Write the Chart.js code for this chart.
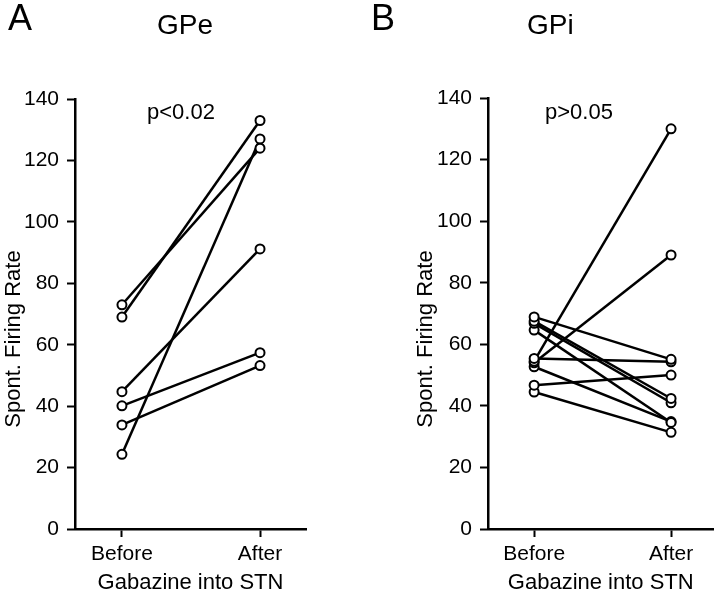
<!DOCTYPE html>
<html>
<head>
<meta charset="utf-8">
<script src="https://cdn.jsdelivr.net/npm/chart.js@4/dist/chart.umd.min.js"></script>
<style>
body { margin: 0; background: #fff; width: 720px; height: 596px; position: relative; overflow: hidden; font-family: "Liberation Sans", Arial, sans-serif; color: #000; }
canvas { position: absolute; top: 0; }
.lbl { position: absolute; white-space: nowrap; line-height: 1; }
.ytitle { position: absolute; width: 240px; height: 26px; line-height: 26px; text-align: center; font-size: 22px; transform: rotate(-90deg); }
</style>
</head>
<body>
<canvas id="gpe" width="360" height="596" style="left:0"></canvas>
<canvas id="gpi" width="360" height="596" style="left:360px"></canvas>
<div class="lbl" style="left:8px;top:0;font-size:36px">A</div>
<div class="lbl" style="left:157px;top:11px;font-size:28px">GPe</div>
<div class="lbl" style="left:147px;top:101px;font-size:22px">p&lt;0.02</div>
<div class="lbl" style="left:371px;top:0;font-size:36px">B</div>
<div class="lbl" style="left:527px;top:11px;font-size:28px">GPi</div>
<div class="lbl" style="left:545px;top:101px;font-size:22px">p&gt;0.05</div>
<div class="ytitle" id="yt1" style="left:-107px;top:326px"></div>
<div class="ytitle" id="yt2" style="left:305px;top:326px"></div>
<script>
var xTickLabels = ["Before", "After"];
var xTitle = "Gabazine into STN";
var yTitle = "Spont. Firing Rate";

// GPe, one pair per cell
var gpeBefore = [73, 69, 44.7, 40.1, 33.9, 24.3];
var gpeAfter = [124, 133, 91.2, 57.4, 53.2, 127];

// GPi, one pair per cell
var gpiBefore = [68.9, 67.5, 66.8, 64.6, 55.4, 54.5, 54, 52.7, 46.7, 44.5];
var gpiAfter = [55.1, 42.4, 41.0, 34.6, 54.3, 130, 89, 34.9, 50, 31.4];

document.getElementById("yt1").textContent = yTitle;
document.getElementById("yt2").textContent = yTitle;

var font = { family: "'Liberation Sans', Arial, sans-serif", size: 21 };
var titleFont = { family: "'Liberation Sans', Arial, sans-serif", size: 22 };

function pairs(before, after) {
    return before.map(function (b, i) {
        return {
            data: [{ x: 0, y: b }, { x: 1, y: after[i] }],
            showLine: true,
            borderColor: "#000",
            borderWidth: 2.5,
            pointRadius: 4.5,
            pointBorderWidth: 2,
            pointBorderColor: "#000",
            pointBackgroundColor: "#fff"
        };
    });
}

function makeChart(id, before, after, o) {
    return new Chart(document.getElementById(id), {
        type: "scatter",
        data: { datasets: pairs(before, after) },
        options: {
            responsive: false,
            animation: false,
            devicePixelRatio: 1,
            layout: { padding: { top: o.top, right: o.right, bottom: 0, left: 0 } },
            plugins: { legend: { display: false }, tooltip: { enabled: false } },
            scales: {
                x: {
                    type: "linear",
                    min: o.xmin,
                    max: o.xmax,
                    afterFit: function (s) { s.height = 67; },
                    afterBuildTicks: function (s) { s.ticks = [{ value: 0 }, { value: 1 }]; },
                    ticks: {
                        callback: function (v) { return xTickLabels[v]; },
                        font: font, color: "#000", padding: 5, autoSkip: false, maxRotation: 0
                    },
                    grid: { drawOnChartArea: false, tickLength: 8, tickWidth: 2, tickColor: "#000" },
                    border: { color: "#000", width: 2.5 },
                    title: { display: true, text: xTitle, font: titleFont, color: "#000", padding: 0 }
                },
                y: {
                    min: 0,
                    max: 140,
                    afterFit: function (s) { s.width = o.yw; },
                    ticks: { stepSize: 20, font: font, color: "#000", padding: 8 },
                    grid: { drawOnChartArea: false, tickLength: 8, tickWidth: 2, tickColor: "#000" },
                    border: { color: "#000", width: 2.5 }
                }
            }
        }
    });
}

makeChart("gpe", gpeBefore, gpeAfter, { top: 99, right: 54, yw: 75, xmin: -0.34, xmax: 1.333 });
makeChart("gpi", gpiBefore, gpiAfter, { top: 98, right: 4, yw: 128, xmin: -0.337, xmax: 1.31 });
</script>
</body>
</html>
